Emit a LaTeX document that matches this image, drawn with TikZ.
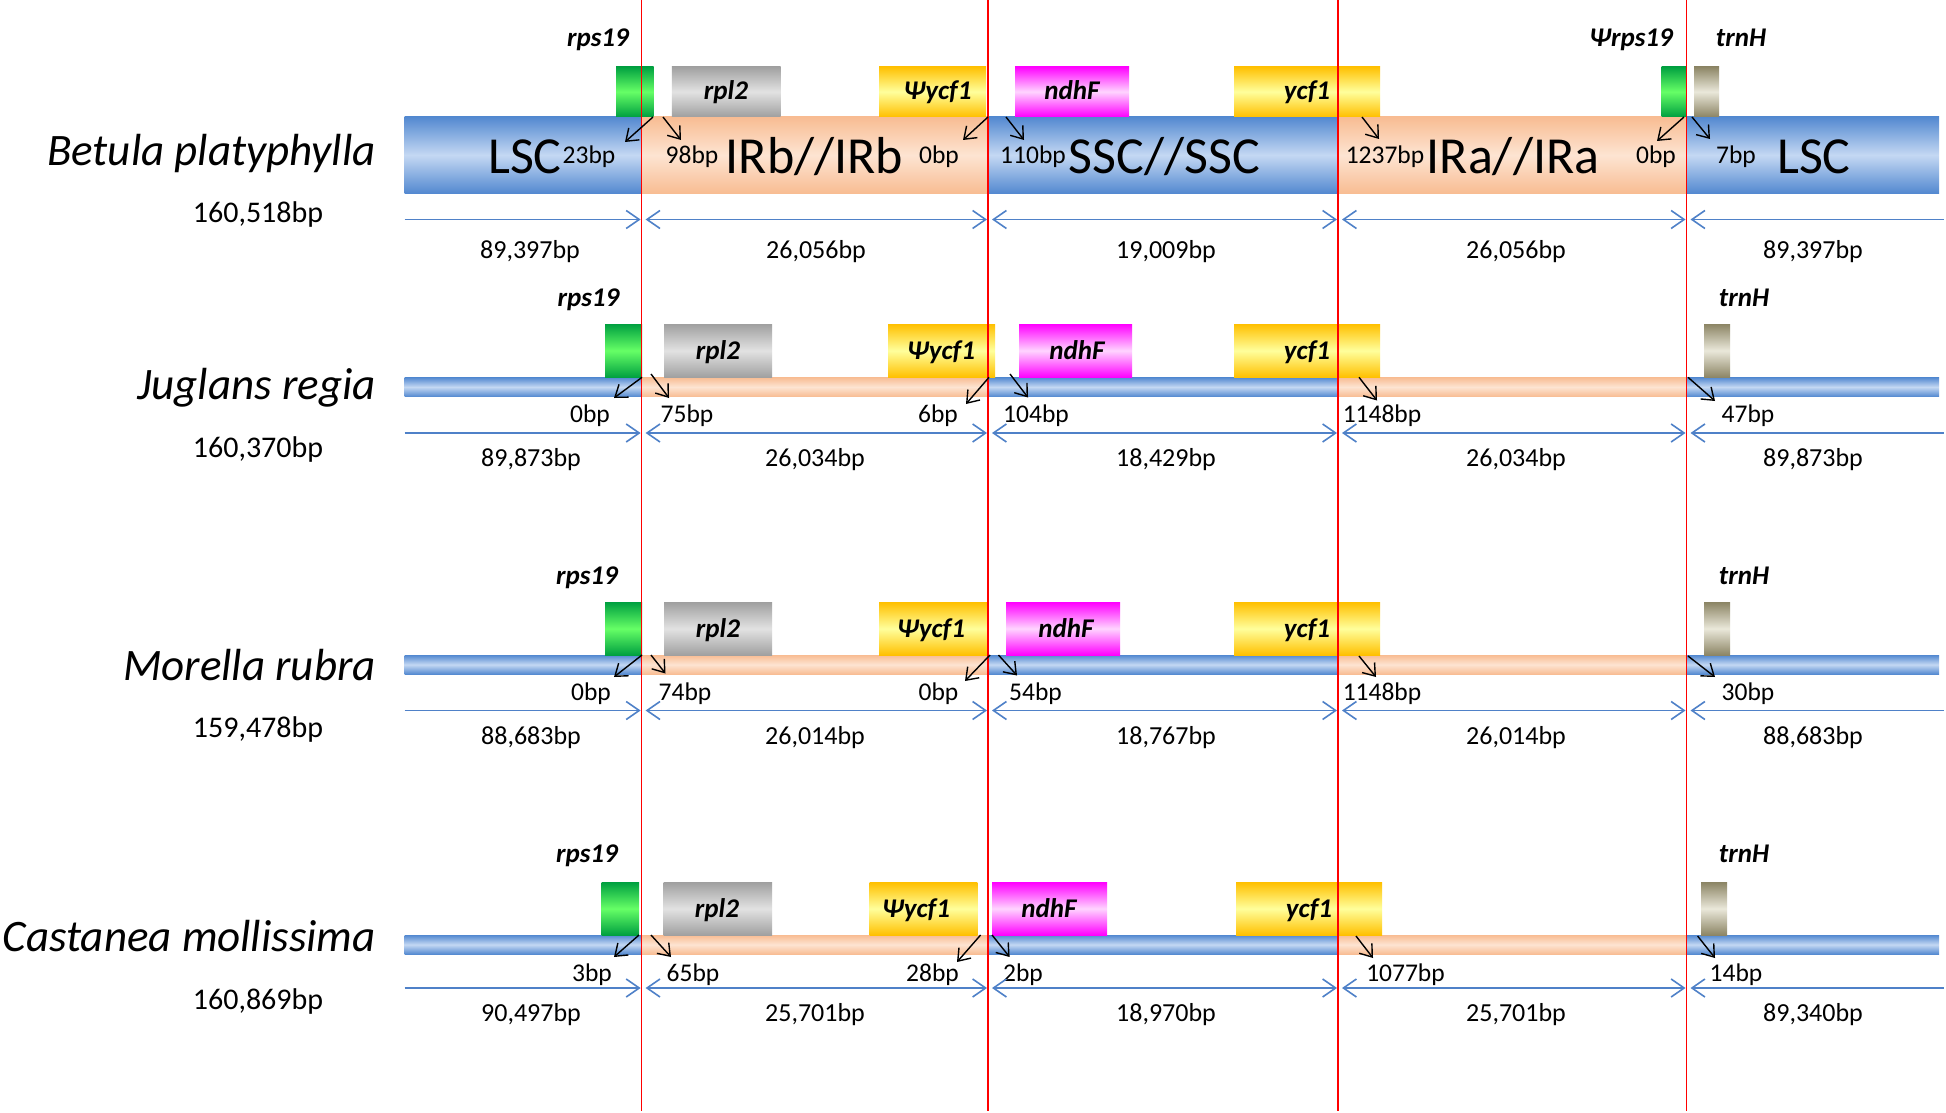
\documentclass[tikz,border=0pt]{standalone}
\usepackage{fontspec}
\setmainfont{Carlito}
\usetikzlibrary{arrows.meta}
\definecolor{lscA}{HTML}{5288D0}
\definecolor{lscB}{HTML}{C4D8F3}
\definecolor{irA}{HTML}{F8BC92}
\definecolor{irB}{HTML}{FDE4D2}
\definecolor{grnA}{HTML}{00A040}
\definecolor{grnB}{HTML}{66FF66}
\definecolor{gryA}{HTML}{A0A0A0}
\definecolor{gryB}{HTML}{E2E2E2}
\definecolor{ylwA}{HTML}{FFC000}
\definecolor{ylwB}{HTML}{FFFF9C}
\definecolor{magA}{HTML}{FF00FF}
\definecolor{magB}{HTML}{FFD4FF}
\definecolor{khkA}{HTML}{8C8565}
\definecolor{khkB}{HTML}{EAE8DA}
\definecolor{dimblue}{HTML}{4F81C8}
\tikzset{
  lscbar/.style={top color=lscA,bottom color=lscA,middle color=lscB},
  irbar/.style={top color=irA,bottom color=irA,middle color=irB},
  grnbox/.style={top color=grnA,bottom color=grnA,middle color=grnB},
  grybox/.style={top color=gryA,bottom color=gryA,middle color=gryB},
  ylwbox/.style={top color=ylwA,bottom color=ylwA,middle color=ylwB},
  magbox/.style={top color=magA,bottom color=magA,middle color=magB},
  khkbox/.style={top color=khkA,bottom color=khkA,middle color=khkB},
  spname/.style={font=\fontsize{45}{54}\selectfont\itshape,inner sep=0pt,anchor=base east},
  gsize/.style={font=\fontsize{30}{36}\selectfont,inner sep=0pt,anchor=base},
  bplab/.style={font=\fontsize{25.5}{30}\selectfont,inner sep=0pt,anchor=base},
  biglab/.style={font=\fontsize{52}{60}\selectfont,inner sep=0pt,anchor=base},
  dimlab/.style={font=\fontsize{26}{31}\selectfont,inner sep=0pt,anchor=base},
  genelab/.style={font=\fontsize{27}{32}\selectfont\bfseries\itshape,inner sep=0pt,anchor=base},
  bparrow/.style={draw=black,line width=1.4pt,-{Straight Barb[length=11pt,width=16pt]}},
  dimline/.style={draw=dimblue,line width=1.6pt},
  dimtip/.tip={Straight Barb[length=13pt,width=18pt]},
  redline/.style={draw=red,line width=1.6pt}
}
\newcommand\mkbar[2]{%
  \path[lscbar] (404.6,#1) rectangle (641.6,#2);
  \path[irbar] (641.6,#1) rectangle (988,#2);
  \path[lscbar] (988,#1) rectangle (1338,#2);
  \path[irbar] (1338,#1) rectangle (1686.5,#2);
  \path[lscbar] (1686.5,#1) rectangle (1939,#2);}
\newcommand\mkdim[2]{%
  \coordinate (#1a) at (404.6,#2);
  \coordinate (#1b) at (640.6,#2);
  \coordinate (#1c) at (645.6,#2);
  \coordinate (#1d) at (987,#2);
  \coordinate (#1e) at (992,#2);
  \coordinate (#1f) at (1337,#2);
  \coordinate (#1g) at (1342,#2);
  \coordinate (#1h) at (1685.5,#2);
  \coordinate (#1i) at (1690.5,#2);
  \coordinate (#1j) at (1944,#2);
  \draw[dimline,-dimtip] (#1a) -- (#1b);
  \draw[dimline,dimtip-dimtip] (#1c) -- (#1d);
  \draw[dimline,dimtip-dimtip] (#1e) -- (#1f);
  \draw[dimline,dimtip-dimtip] (#1g) -- (#1h);
  \draw[dimline,dimtip-] (#1i) -- (#1j);}
\newcommand\mkarr[5]{%
  \coordinate (#1s) at (#2,#3);
  \coordinate (#1t) at (#4,#5);
  \draw[bparrow] (#1s) -- (#1t);}
\begin{document}
\begin{tikzpicture}[x=1pt,y=-1pt]
\useasboundingbox (0,0) rectangle (1946,1113);
\fill[white] (0,0) rectangle (1946,1113);

% ---------- bars ----------
\mkbar{116.7}{193.6}
\mkbar{377.3}{396.7}
\mkbar{655}{674.3}
\mkbar{935}{954.3}

% ---------- gene boxes row 1 ----------
\path[grnbox] (616,66.7) rectangle (653.6,116.7);
\path[grybox] (671.8,66.7) rectangle (780.5,116.7);
\path[ylwbox] (879,66.7) rectangle (986,116.7);
\path[magbox] (1015,66.7) rectangle (1129,116.7);
\path[ylwbox] (1234,66.7) rectangle (1380,116.7);
\path[grnbox] (1661.7,66.7) rectangle (1686.7,116.7);
\path[khkbox] (1694,66.7) rectangle (1719,116.7);
% row 2
\path[grnbox] (605,324) rectangle (642,377.3);
\path[grybox] (664,324) rectangle (772,377.3);
\path[ylwbox] (888,324) rectangle (995,377.3);
\path[magbox] (1019,324) rectangle (1132,377.3);
\path[ylwbox] (1234,324) rectangle (1380,377.3);
\path[khkbox] (1704,324) rectangle (1730,377.3);
% row 3
\path[grnbox] (605,602.3) rectangle (642,655);
\path[grybox] (664,602.3) rectangle (772,655);
\path[ylwbox] (879,602.3) rectangle (987,655);
\path[magbox] (1006,602.3) rectangle (1120,655);
\path[ylwbox] (1234,602.3) rectangle (1380,655);
\path[khkbox] (1704,602.3) rectangle (1730,655);
% row 4
\path[grnbox] (601.6,882.3) rectangle (639,935);
\path[grybox] (663.5,882.3) rectangle (772,935);
\path[ylwbox] (869.6,882.3) rectangle (977.4,935);
\path[magbox] (992,882.3) rectangle (1107,935);
\path[ylwbox] (1236,882.3) rectangle (1382,935);
\path[khkbox] (1701,882.3) rectangle (1727,935);

% ---------- red boundary lines ----------
\coordinate (jlbA) at (641.6,0);   \coordinate (jlbB) at (641.6,1111);
\coordinate (jsbA) at (988,0);     \coordinate (jsbB) at (988,1111);
\coordinate (jsaA) at (1338,0);    \coordinate (jsaB) at (1338,1111);
\coordinate (jlaA) at (1686.5,0);  \coordinate (jlaB) at (1686.5,1111);
\draw[redline] (jlbA) -- (jlbB);
\draw[redline] (jsbA) -- (jsbB);
\draw[redline] (jsaA) -- (jsaB);
\draw[redline] (jlaA) -- (jlaB);

% ---------- species names and sizes ----------
\node[spname] (sp1) at (376,165) {Betula platyphylla};
\node[spname] (sp2) at (376,399) {Juglans regia};
\node[spname] (sp3) at (376,680) {Morella rubra};
\node[spname] (sp4) at (376,951) {Castanea mollissima};
\node[gsize] (gs1) at (258,222.7) {160,518bp};
\node[gsize] (gs2) at (258,457.5) {160,370bp};
\node[gsize] (gs3) at (258,737) {159,478bp};
\node[gsize] (gs4) at (258,1009) {160,869bp};

% ---------- gene labels ----------
\node[genelab] (g1a) at (598,47) {rps19};
\node[genelab] (g1b) at (726,100) {rpl2};
\node[genelab] (g1c) at (937.5,100) {Ψycf1};
\node[genelab] (g1d) at (1072,100) {ndhF};
\node[genelab] (g1e) at (1307,100) {ycf1};
\node[genelab] (g1f) at (1631,47) {Ψrps19};
\node[genelab] (g1g) at (1741,47) {trnH};

\node[genelab] (g2a) at (588.5,306) {rps19};
\node[genelab] (g2b) at (718,359) {rpl2};
\node[genelab] (g2c) at (941,359) {Ψycf1};
\node[genelab] (g2d) at (1077,359) {ndhF};
\node[genelab] (g2e) at (1307,359) {ycf1};
\node[genelab] (g2g) at (1744,306) {trnH};

\node[genelab] (g3a) at (587,584) {rps19};
\node[genelab] (g3b) at (718,637) {rpl2};
\node[genelab] (g3c) at (931,637) {Ψycf1};
\node[genelab] (g3d) at (1066,637) {ndhF};
\node[genelab] (g3e) at (1307,637) {ycf1};
\node[genelab] (g3g) at (1744,584) {trnH};

\node[genelab] (g4a) at (587,862) {rps19};
\node[genelab] (g4b) at (717,917) {rpl2};
\node[genelab] (g4c) at (916,917) {Ψycf1};
\node[genelab] (g4d) at (1049,917) {ndhF};
\node[genelab] (g4e) at (1309,917) {ycf1};
\node[genelab] (g4g) at (1744,862) {trnH};

% ---------- region labels row 1 ----------
\node[biglab] (r1a) at (525,173) {LSC};
\node[biglab] (r1b) at (814.6,173) {IRb//IRb};
\node[biglab] (r1c) at (1164.5,173) {SSC//SSC};
\node[biglab] (r1d) at (1513,173) {IRa//IRa};
\node[biglab] (r1e) at (1814,173) {LSC};

% ---------- small black arrows ----------
\mkarr{a11}{653}{117}{625}{142}
\mkarr{a12}{663}{117}{681}{140}
\mkarr{a13}{988}{117}{963}{140}
\mkarr{a14}{1006}{117}{1024}{140}
\mkarr{a15}{1362}{117}{1379}{139}
\mkarr{a16}{1684}{117}{1657}{141}
\mkarr{a17}{1692}{117}{1710}{139}

\mkarr{a21}{642}{377.3}{614}{398}
\mkarr{a22}{651}{374}{669}{398}
\mkarr{a23}{989}{377.3}{966}{404}
\mkarr{a24}{1010}{374}{1028}{397.5}
\mkarr{a25}{1359}{377.3}{1377}{400.5}
\mkarr{a26}{1688}{377.3}{1715}{401}

\mkarr{a31}{642}{655}{614}{677}
\mkarr{a32}{651}{655}{665.5}{673.5}
\mkarr{a33}{990}{655}{965}{681}
\mkarr{a34}{998.5}{655}{1017}{675.5}
\mkarr{a35}{1359}{656}{1376}{677}
\mkarr{a36}{1688}{656}{1715}{677}

\mkarr{a41}{639}{935}{614}{957}
\mkarr{a42}{651}{935}{671}{957}
\mkarr{a43}{980.6}{935}{957}{962}
\mkarr{a44}{992}{935}{1009.6}{957}
\mkarr{a45}{1356}{936}{1373}{958}
\mkarr{a46}{1697.6}{936}{1715}{958}

% ---------- bp labels ----------
\node[bplab] (b11) at (589,164) {23bp};
\node[bplab] (b12) at (692,164) {98bp};
\node[bplab] (b13) at (939,164) {0bp};
\node[bplab] (b14) at (1033,164) {110bp};
\node[bplab] (b15) at (1385,164) {1237bp};
\node[bplab] (b16) at (1656,164) {0bp};
\node[bplab] (b17) at (1736,164) {7bp};

\node[bplab] (b21) at (590,422) {0bp};
\node[bplab] (b22) at (687,422) {75bp};
\node[bplab] (b23) at (938,422) {6bp};
\node[bplab] (b24) at (1036,422) {104bp};
\node[bplab] (b25) at (1382,422) {1148bp};
\node[bplab] (b26) at (1748,422) {47bp};

\node[bplab] (b31) at (591,700) {0bp};
\node[bplab] (b32) at (685,700) {74bp};
\node[bplab] (b33) at (938.5,700) {0bp};
\node[bplab] (b34) at (1035.5,700) {54bp};
\node[bplab] (b35) at (1382,700) {1148bp};
\node[bplab] (b36) at (1748,700) {30bp};

\node[bplab] (b41) at (592,981) {3bp};
\node[bplab] (b42) at (693,981) {65bp};
\node[bplab] (b43) at (932.5,981) {28bp};
\node[bplab] (b44) at (1023,981) {2bp};
\node[bplab] (b45) at (1405.5,981) {1077bp};
\node[bplab] (b46) at (1736,981) {14bp};

% ---------- dimension lines ----------
\mkdim{d1}{219.5}
\mkdim{d2}{433}
\mkdim{d3}{710.5}
\mkdim{d4}{988}

\node[dimlab] (l11) at (530,258) {89,397bp};
\node[dimlab] (l12) at (816,258) {26,056bp};
\node[dimlab] (l13) at (1166,258) {19,009bp};
\node[dimlab] (l14) at (1516,258) {26,056bp};
\node[dimlab] (l15) at (1813,258) {89,397bp};

\node[dimlab] (l21) at (531,466.5) {89,873bp};
\node[dimlab] (l22) at (815,466.5) {26,034bp};
\node[dimlab] (l23) at (1166,466.5) {18,429bp};
\node[dimlab] (l24) at (1516,466.5) {26,034bp};
\node[dimlab] (l25) at (1813,466.5) {89,873bp};

\node[dimlab] (l31) at (531,744) {88,683bp};
\node[dimlab] (l32) at (815,744) {26,014bp};
\node[dimlab] (l33) at (1166,744) {18,767bp};
\node[dimlab] (l34) at (1516,744) {26,014bp};
\node[dimlab] (l35) at (1813,744) {88,683bp};

\node[dimlab] (l41) at (531,1021) {90,497bp};
\node[dimlab] (l42) at (815,1021) {25,701bp};
\node[dimlab] (l43) at (1166,1021) {18,970bp};
\node[dimlab] (l44) at (1516,1021) {25,701bp};
\node[dimlab] (l45) at (1813,1021) {89,340bp};
\end{tikzpicture}
\end{document}
